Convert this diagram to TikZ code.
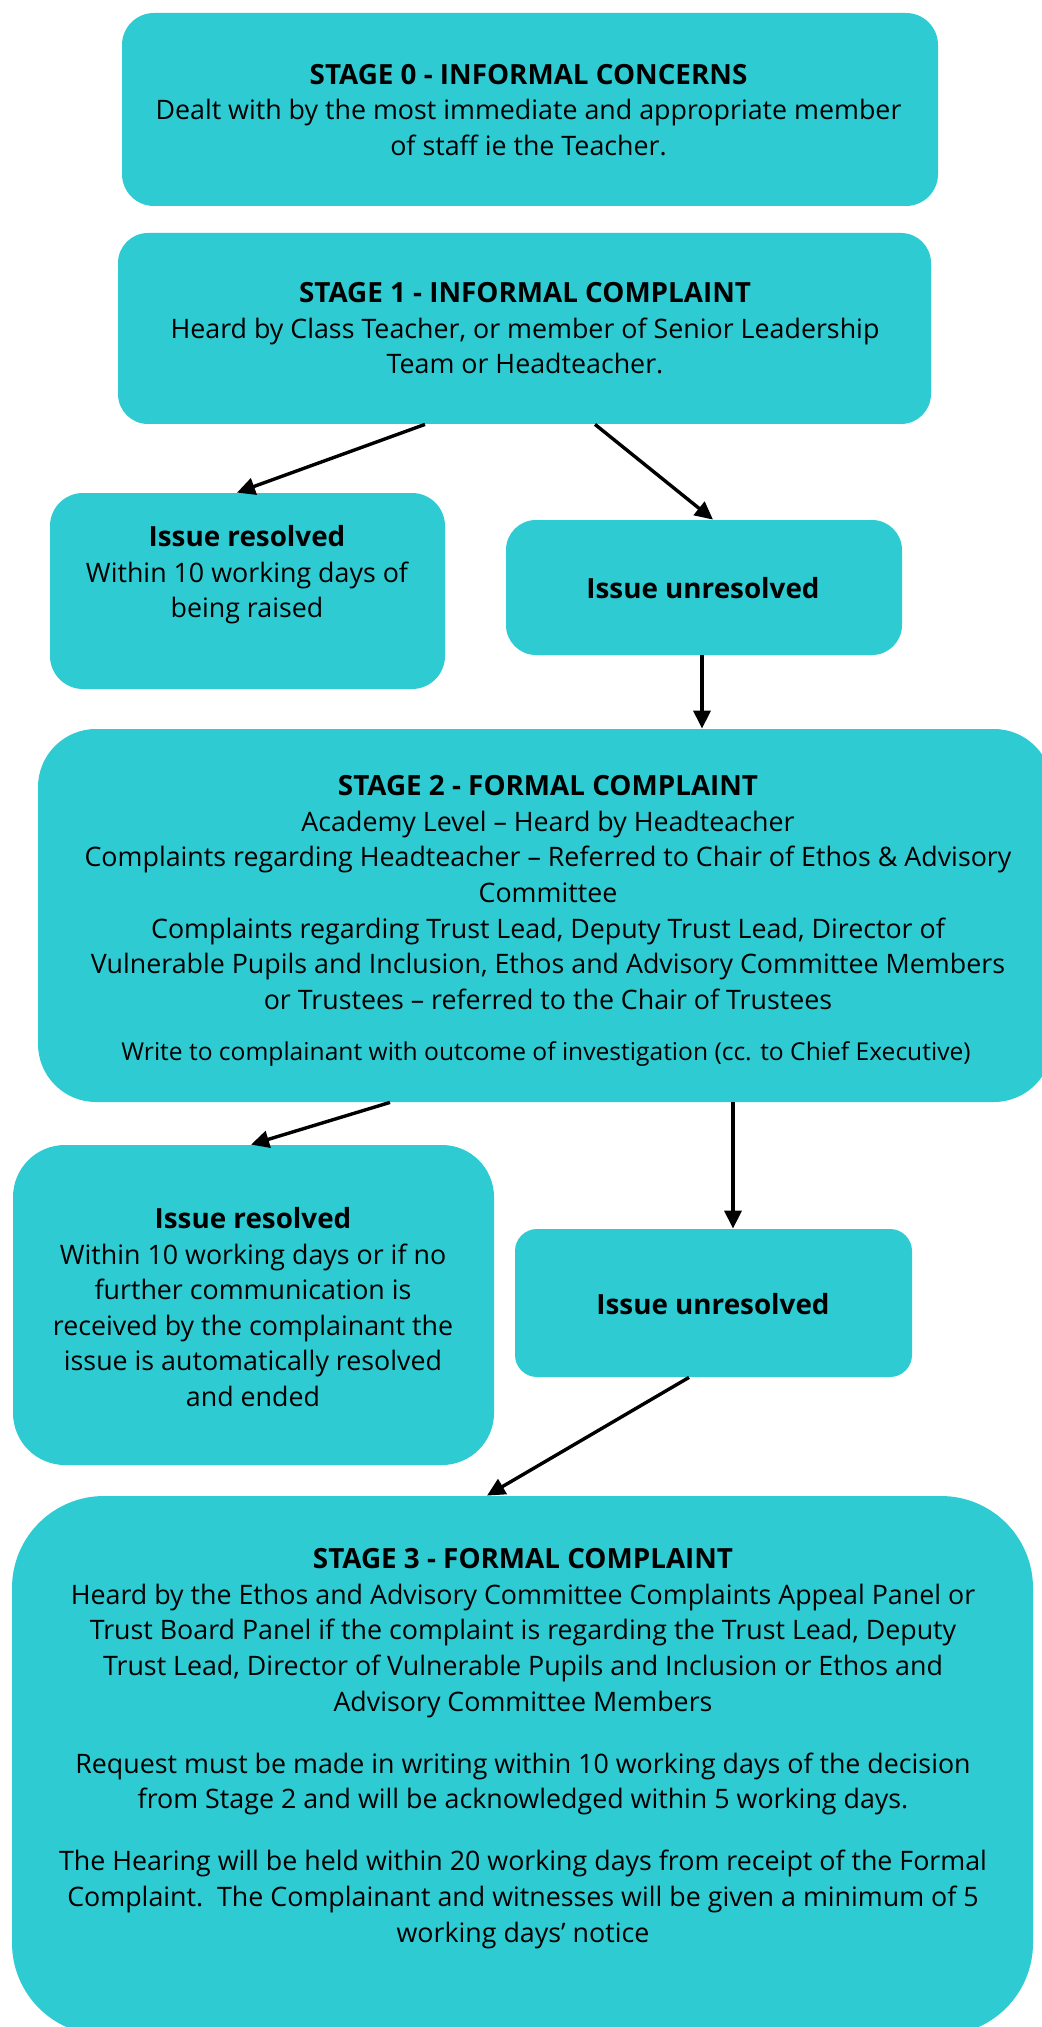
\documentclass[tikz,border=0pt]{standalone}
\usepackage{fontspec}
\setmainfont{Open Sans}
\usetikzlibrary{arrows.meta}
\definecolor{tealbox}{RGB}{46,203,211}
\newcommand\hdtext[1]{{\fontsize{13.9}{17.8}\selectfont\bfseries #1}}
\begin{document}
\begin{tikzpicture}[x=0.5pt,y=-0.5pt,
  box/.style={fill=tealbox, draw=none, rectangle, inner sep=0pt},
  txt/.style={align=center, inner sep=0pt, text=black, font=\fontsize{13.4}{17.8}\selectfont},
  txtthree/.style={align=center, inner sep=0pt, text=black, font=\fontsize{13.4}{17.9}\selectfont},
  smalltxt/.style={align=center, inner sep=0pt, text=black, font=\fontsize{12.3}{15}\selectfont},
  arr/.style={-{Triangle[length=9pt,width=8.5pt]}, line width=1.7pt, black}]
\useasboundingbox (0,0) rectangle (1041,2027);
% boxes
\node[box, minimum width=408pt, minimum height=96.5pt, rounded corners=16pt] (s0) at (530,109.5) {};
\node[box, minimum width=406.5pt, minimum height=95.5pt, rounded corners=15pt] (s1) at (524.5,328.5) {};
\node[box, minimum width=197.5pt, minimum height=98pt, rounded corners=16.5pt] (r1) at (247.5,591) {};
\node[box, minimum width=198pt, minimum height=67.5pt, rounded corners=15pt] (u1) at (704,587.5) {};
\node[box, minimum width=507pt, minimum height=186.5pt, rounded corners=29pt] (s2) at (545,915.5) {};
\node[box, minimum width=240.5pt, minimum height=160pt, rounded corners=26pt] (r2) at (253.5,1305) {};
\node[box, minimum width=198.5pt, minimum height=74pt, rounded corners=11pt] (u2) at (713.5,1303) {};
\node[box, minimum width=510.5pt, minimum height=269.5pt, rounded corners=46pt] (s3) at (522.5,1765.5) {};
% texts
\node[txt] (t0) at (528.5,110) {\hdtext{STAGE 0 - INFORMAL CONCERNS}\\Dealt with by the most immediate and appropriate member\\of staff ie the Teacher.};
\node[txt] (t1) at (525,328.5) {\hdtext{STAGE 1 - INFORMAL COMPLAINT}\\Heard by Class Teacher, or member of Senior Leadership\\Team or Headteacher.};
\node[txt] (tr1) at (247,575) {\hdtext{Issue resolved}\\Within 10 working days of\\being raised};
\node[txt] (tu1) at (703,588) {\hdtext{Issue unresolved}};
\node[txt] (t2) at (548,892.5) {\hdtext{STAGE 2 - FORMAL COMPLAINT}\\Academy Level – Heard by Headteacher\\Complaints regarding Headteacher – Referred to Chair of Ethos \& Advisory\\Committee\\Complaints regarding Trust Lead, Deputy Trust Lead, Director of\\Vulnerable Pupils and Inclusion, Ethos and Advisory Committee Members\\or Trustees – referred to the Chair of Trustees};
\node[smalltxt] (t2b) at (546,1054) {Write to complainant with outcome of investigation (cc. to Chief Executive)};
\node[txt] (tr2) at (253,1307) {\hdtext{Issue resolved}\\Within 10 working days or if no\\further communication is\\received by the complainant the\\issue is automatically resolved\\and ended};
\node[txt] (tu2) at (713,1304) {\hdtext{Issue unresolved}};
\node[txtthree] (t3) at (523,1633) {\hdtext{STAGE 3 - FORMAL COMPLAINT}\\Heard by the Ethos and Advisory Committee Complaints Appeal Panel or\\Trust Board Panel if the complaint is regarding the Trust Lead, Deputy\\Trust Lead, Director of Vulnerable Pupils and Inclusion or Ethos and\\Advisory Committee Members};
\node[txtthree] (t3b) at (523,1784) {Request must be made in writing within 10 working days of the decision\\from Stage 2 and will be acknowledged within 5 working days.};
\node[txtthree] (t3c) at (523,1899.5) {The Hearing will be held within 20 working days from receipt of the Formal\\Complaint.\ \ The Complainant and witnesses will be given a minimum of 5\\working days’ notice};
% arrows
\draw[arr] ([xshift=-49.75pt]s1.south) -- ([xshift=-5.25pt]r1.north);
\draw[arr] ([xshift=35.25pt]s1.south) -- ([xshift=4.5pt]u1.north);
\draw[arr] ([xshift=-1pt]u1.south) -- ([xshift=78.5pt]s2.north);
\draw[arr] ([xshift=-77.5pt]s2.south) -- ([xshift=-1.25pt]r2.north);
\draw[arr] ([xshift=94pt]s2.south) -- ([xshift=9.75pt]u2.north);
\draw[arr] ([xshift=-12.25pt]u2.south) -- ([xshift=-17.75pt]s3.north);
\end{tikzpicture}
\end{document}
